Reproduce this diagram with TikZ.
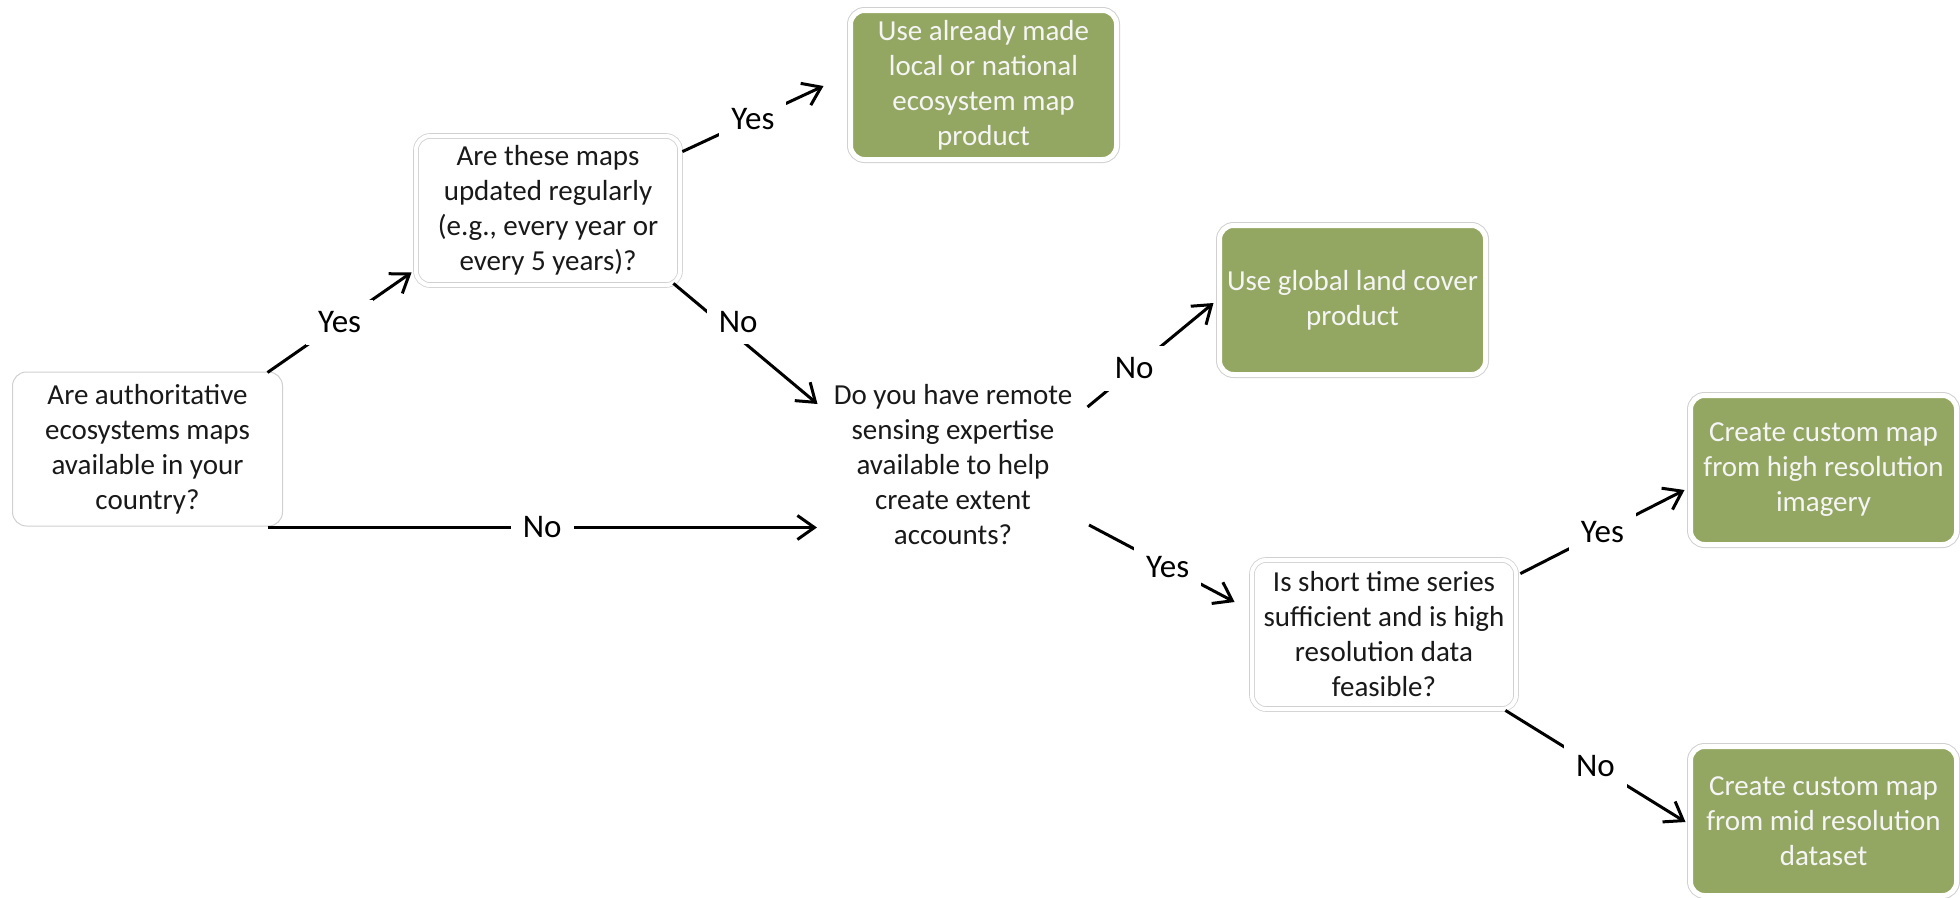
\documentclass[tikz,border=0pt]{standalone}
\usepackage{fontspec}
\setmainfont{Carlito}
\usetikzlibrary{arrows.meta}
\definecolor{leaf}{RGB}{147,167,98}
\definecolor{rim}{RGB}{208,208,208}
\begin{document}
\begin{tikzpicture}[x=1pt,y=-1pt,
  qbox/.style={rounded corners=14pt, fill=white, draw=rim, line width=1pt, minimum width=270pt, minimum height=154pt, align=center, inner sep=0pt, text=black!90, font=\fontsize{29}{35}\selectfont},
  qdbl/.style={qbox, double=white, double distance=4pt, line width=0.8pt, minimum width=264pt, minimum height=149pt},
  rbox/.style={rounded corners=14pt, fill=leaf, draw=white, line width=5pt, preaction={draw=rim, line width=7pt}, minimum width=266pt, minimum height=149pt, align=center, inner sep=0pt, text=white!96!black, font=\fontsize{29}{35}\selectfont},
  lab/.style={fill=white, inner sep=12pt, font=\fontsize{33}{33}\selectfont},
  arr/.style={line width=3pt, -{Straight Barb[length=17pt,width=24pt]}}]
\useasboundingbox (0,0) rectangle (1960,897);
\node[qbox] (q1) at (147.5,449){Are authoritative\\ecosystems maps\\available in your\\country?};
\node[qdbl] (q2) at (548,210.5){Are these maps\\updated regularly\\(e.g., every year or\\every 5 years)?};
\node[qbox, draw=none, minimum width=271pt, minimum height=155pt] (q3) at (953,465){Do you have remote\\sensing expertise\\available to help\\create extent\\accounts?};
\node[qdbl] (q4) at (1384,634.5){Is short time series\\sufficient and is high\\resolution data\\feasible?};
\node[rbox] (r1) at (983.5,85){Use already made\\local or national\\ecosystem map\\product};
\node[rbox] (r2) at (1352.5,300){Use global land cover\\product};
\node[rbox] (r3) at (1823.5,470){Create custom map\\from high resolution\\imagery};
\node[rbox] (r4) at (1823.5,821){Create custom map\\from mid resolution\\dataset};
\coordinate (n0) at ([shift={(-15.5,1)}]q1.south east);
\draw[arr] ([shift={(-15.5,1)}]q1.north east) -- node[lab]{Yes} ([shift={(-4,-13)}]q2.south west);
\draw[arr] (n0) -- node[lab]{No} (n0 -| q3.west);
\draw[arr] ([shift={(2,16)}]q2.north east) -- node[lab]{Yes} ([shift={(-24.5,1)}]r1.west);
\draw[arr] ([shift={(-7,-2)}]q2.south east) -- node[lab, pos=.45, yshift=16pt]{No} ([shift={(0.5,-61)}]q3.west);
\draw[arr] ([shift={(-1.5,-58)}]q3.east) -- node[lab, pos=.37]{No} ([shift={(-3.5,3)}]r2.west);
\draw[arr] ([shift={(0,60)}]q3.east) -- node[lab, pos=.54]{Yes} ([shift={(-17,-32.5)}]q4.west);
\draw[arr] ([shift={(4,14)}]q4.north east) -- node[lab]{Yes} ([shift={(-3.5,20)}]r3.west);
\draw[arr] ([shift={(-11,1)}]q4.south east) -- node[lab]{No} ([shift={(-2.5,1)}]r4.west);
\end{tikzpicture}
\end{document}
